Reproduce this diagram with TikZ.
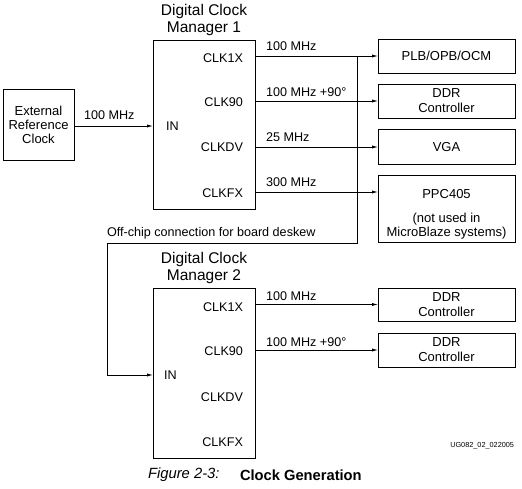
\documentclass[tikz,border=0pt]{standalone}
\usepackage{fontspec}
\setmainfont{Liberation Sans}
\usetikzlibrary{arrows.meta}
\begin{document}
\begin{tikzpicture}[x=1pt,y=-1pt,
  every node/.style={inner sep=0pt,outer sep=0pt},
  lw/.style={line width=0.8pt},
  box/.style={draw,lw,align=center,font=\fontsize{13}{15}\selectfont},
  dcm/.style={draw,lw,minimum width=102pt},
  ttl/.style={align=center,font=\fontsize{15.5}{17.5}\selectfont},
  port/.style={anchor=east,font=\fontsize{12.6}{14}\selectfont},
  lbl/.style={anchor=west,font=\fontsize{12.6}{14}\selectfont},
  arr/.style={lw,-{Latex[length=6pt,width=3.2pt]}},
  wire/.style={lw}]
\useasboundingbox (0,0) rectangle (522,489);

% external clock
\node[box,minimum width=71pt,minimum height=71pt] (ext) at (38.5,124.5)
  {External\\[-1pt]Reference\\[-1pt]Clock};

% DCM 1
\node[dcm,minimum height=169pt] (dcm1) at (204,124.5) {};
\node[ttl] (t1) at (204,20) {Digital Clock\\Manager 1};
\node[port] (c1a) at (243,58) {CLK1X};
\node[port] (c1b) at (243,102) {CLK90};
\node[port] (c1c) at (243,147) {CLKDV};
\node[port] (c1d) at (243,193) {CLKFX};
\node[lbl] (in1) at (166,126) {IN};

% DCM 2
\node[dcm,minimum height=170pt] (dcm2) at (204,373) {};
\node[ttl] (t2) at (204,268) {Digital Clock\\Manager 2};
\node[port] (c2a) at (243,307) {CLK1X};
\node[port] (c2b) at (243,351) {CLK90};
\node[port] (c2c) at (243,397) {CLKDV};
\node[port] (c2d) at (243,442) {CLKFX};
\node[lbl] (in2) at (164,375) {IN};

% targets
\node[box,minimum width=137pt,minimum height=34pt] (plb) at (446.5,56) {PLB/OPB/OCM};
\node[box,minimum width=137pt,minimum height=34pt] (ddr1) at (446.5,101) {DDR\\Controller};
\node[box,minimum width=137pt,minimum height=35pt] (vga) at (446.5,147) {VGA};
\node[box,minimum width=137pt,minimum height=67pt] (ppc) at (446.5,208.5) {};
\node[align=center,font=\fontsize{13}{14}\selectfont] (ppct) at (446.5,214.5)
  {PPC405\\[10pt](not used in\\MicroBlaze systems)};
\node[box,minimum width=137pt,minimum height=33pt] (ddr2) at (446.5,304.5) {DDR\\Controller};
\node[box,minimum width=137pt,minimum height=34pt] (ddr3) at (446.5,350) {DDR\\Controller};

% connection points
\coordinate (o1a) at (255,56);
\coordinate (o1b) at (255,101);
\coordinate (o1c) at (255,147);
\coordinate (o1d) at (255,192);
\coordinate (o2a) at (255,304.5);
\coordinate (o2b) at (255,350);
\coordinate (i1) at (153,126);
\coordinate (i2) at (153,375);
\coordinate (j) at (357,56);
\coordinate (f1) at (357,243);
\coordinate (f2) at (107,243);

% connectors
\draw[arr] (ext.east |- i1) -- (i1);
\draw[arr] (o1a) -- (o1a -| plb.west);
\draw[arr] (o1b) -- (o1b -| ddr1.west);
\draw[arr] (o1c) -- (o1c -| vga.west);
\draw[arr] (o1d) -- (o1d -| ppc.west);
\draw[arr] (o2a) -- (o2a -| ddr2.west);
\draw[arr] (o2b) -- (o2b -| ddr3.west);
\draw[arr] (j) -- (f1) -- (f2) |- (i2);

% labels
\node[lbl] (l0) at (84,115) {100 MHz};
\node[lbl] (l1) at (266,46) {100 MHz};
\node[lbl] (l2) at (266,92) {100 MHz +90°};
\node[lbl] (l3) at (266,137) {25 MHz};
\node[lbl] (l4) at (266,182) {300 MHz};
\node[lbl] (l5) at (266,296) {100 MHz};
\node[lbl] (l6) at (266,342) {100 MHz +90°};
\node[lbl] (off) at (107,233) {Off-chip connection for board deskew};

\node[anchor=east,font=\fontsize{7.3}{8}\selectfont] (ug) at (514,446) {UG082\_02\_022005};
\node[anchor=west,font=\fontsize{14.8}{16}\selectfont\itshape] (cap1) at (148,475) {Figure 2-3:};
\node[anchor=west,font=\fontsize{14.7}{16}\selectfont\bfseries] (cap2) at (240,475) {Clock Generation};
\end{tikzpicture}
\end{document}
